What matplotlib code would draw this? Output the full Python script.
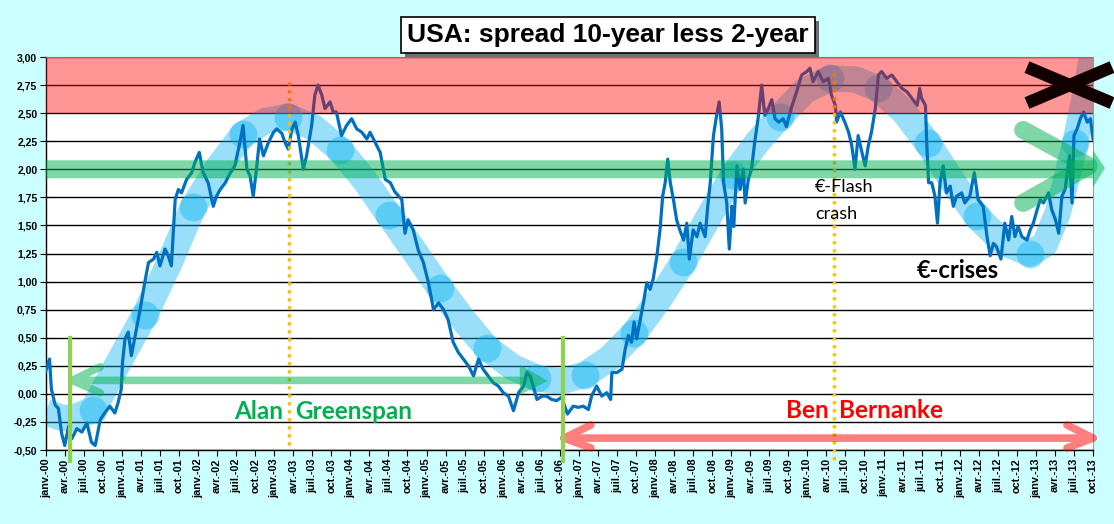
import matplotlib
matplotlib.use('Agg')
import matplotlib.pyplot as plt
from matplotlib.patches import Polygon, Rectangle
import numpy as np

# ---------------- data (months since Jan-2000, spread in %) ----------------
months = [0, 0.6, 0.9, 1.5, 2, 2.5, 3, 3.6, 4.1, 4.9, 5.7, 6.5, 7.2, 7.8, 8.6, 9.3,
          10.1, 10.9, 11.4, 11.9, 12.1, 12.5, 13, 13.5, 14.3, 14.9, 15.6, 16.2, 17,
          17.5, 18, 18.8, 19.3, 19.8, 20.4, 20.9, 21.4, 22.2, 23, 23.5, 24.2, 24.8,
          25.6, 26.4, 26.9, 27.5, 28.3, 29, 29.8, 30.6, 31.1, 31.7, 32.2, 32.7, 33.2,
          33.7, 34.3, 35.1, 35.9, 36.4, 37.2, 37.7, 38.2, 38.8, 39.3, 39.8, 40.6,
          41.1, 41.9, 42.4, 42.9, 43.5, 44, 44.8, 45.3, 45.8, 46.6, 47.4, 48.2, 49,
          49.8, 50.6, 51.1, 51.9, 52.7, 53.5, 54.3, 55, 56.1, 56.6, 57.1, 57.9, 58.7,
          59.5, 60.3, 61.1, 61.9, 62.7, 63.4, 64.2, 65, 65.8, 66.6, 67.4, 68.2, 68.9,
          69.7, 70.5, 71.3, 72.1, 72.9, 73.7, 74.5, 75.3, 75.8, 76.3, 76.8, 77.4,
          78.2, 78.9, 79.7, 80.5, 81.3, 82.2, 83.1, 83.9, 84.7, 85.5, 86, 86.8, 87.6,
          88.4, 89, 89.2, 90, 90.8, 91.3, 91.8, 92.3, 92.7, 93.1, 93.6, 94.2, 94.7,
          95.2, 95.7, 96.3, 96.8, 97.2, 97.6, 98, 98.4, 98.9, 99.4, 99.9, 100.5, 101,
          101.4, 102, 102.6, 103.1, 103.9, 104.3, 104.7, 105.2, 105.7, 106.1, 106.5,
          106.8, 107.3, 107.7, 108.1, 108.4, 108.9, 109.4, 109.9, 110.2, 110.7, 111.2,
          111.7, 112.3, 112.8, 113.3, 113.9, 114.4, 114.9, 115.5, 116.2, 116.7, 117.5,
          118.3, 119.1, 119.9, 120.4, 120.9, 121.7, 122.5, 123.3, 123.8, 124.4, 124.6,
          125.2, 125.9, 126.5, 127, 127.5, 128, 128.6, 129.1, 129.6, 130.1, 130.7,
          131.2, 131.7, 132.5, 133.3, 134.1, 134.9, 135.7, 136.5, 137.3, 137.7, 138,
          138.6, 138.8, 139.1, 139.6, 140.1, 140.5, 140.9, 141.4, 141.9, 142.5, 143,
          143.5, 144.3, 144.8, 145.6, 146.3, 146.9, 147.7, 148.3, 148.8, 149.3, 149.8,
          150.5, 151.1, 151.7, 152.2, 152.7, 153.2, 153.8, 154.6, 155.1, 155.6, 156.2,
          156.7, 157.2, 158, 158.5, 159.1, 159.6, 160.1, 160.6, 161.3, 161.7, 162,
          162.5, 163, 163.5, 164.1, 164.6, 165]
spread = [0.20, 0.31, 0.04, -0.10, -0.13, -0.35, -0.46, -0.29, -0.40, -0.31, -0.34,
          -0.26, -0.43, -0.46, -0.23, -0.17, -0.11, -0.17, -0.08, 0.04, 0.28, 0.49,
          0.55, 0.34, 0.58, 0.76, 0.99, 1.17, 1.20, 1.26, 1.14, 1.29, 1.23, 1.14, 1.73,
          1.82, 1.79, 1.91, 1.97, 2.06, 2.15, 1.97, 1.88, 1.67, 1.76, 1.82, 1.88, 1.96,
          2.03, 2.24, 2.39, 2.00, 1.94, 1.76, 2.00, 2.27, 2.12, 2.24, 2.33, 2.36, 2.32,
          2.24, 2.18, 2.36, 2.42, 2.30, 2.00, 2.12, 2.39, 2.66, 2.75, 2.66, 2.54, 2.60,
          2.51, 2.51, 2.30, 2.39, 2.45, 2.36, 2.33, 2.27, 2.33, 2.24, 2.15, 1.91, 1.88,
          1.80, 1.73, 1.43, 1.55, 1.46, 1.28, 1.17, 0.99, 0.75, 0.81, 0.75, 0.66, 0.46,
          0.37, 0.31, 0.25, 0.16, 0.31, 0.22, 0.16, 0.10, 0.07, 0.01, -0.02, -0.15,
          0.01, 0.07, 0.19, 0.16, 0.07, -0.05, -0.02, -0.02, -0.05, -0.06, -0.03, -0.18,
          -0.11, -0.12, -0.11, -0.14, -0.02, 0.07, -0.02, 0.01, -0.05, 0.19, 0.19, 0.22,
          0.40, 0.52, 0.46, 0.64, 0.49, 0.64, 0.82, 0.99, 0.93, 1.02, 1.23, 1.47, 1.76,
          1.88, 2.09, 1.88, 1.73, 1.55, 1.46, 1.37, 1.52, 1.20, 1.46, 1.40, 1.52, 1.40,
          1.67, 1.88, 2.30, 2.48, 2.60, 2.36, 1.88, 1.70, 1.29, 1.67, 1.49, 2.03, 1.82,
          2.00, 1.70, 1.91, 2.00, 2.24, 2.48, 2.75, 2.48, 2.55, 2.62, 2.45, 2.42, 2.45,
          2.38, 2.55, 2.69, 2.84, 2.87, 2.90, 2.78, 2.87, 2.78, 2.81, 2.66, 2.57, 2.42,
          2.51, 2.42, 2.33, 2.21, 2.00, 2.30, 2.15, 2.03, 2.21, 2.33, 2.54, 2.84, 2.87,
          2.81, 2.84, 2.78, 2.72, 2.69, 2.63, 2.57, 2.72, 2.63, 2.57, 2.24, 1.88, 1.88,
          1.76, 1.52, 1.88, 2.03, 1.79, 1.85, 1.67, 1.76, 1.79, 1.70, 1.76, 1.97, 1.73,
          1.67, 1.40, 1.23, 1.34, 1.31, 1.20, 1.52, 1.37, 1.58, 1.40, 1.49, 1.40, 1.37,
          1.46, 1.52, 1.64, 1.73, 1.70, 1.79, 1.64, 1.55, 1.43, 1.76, 1.82, 2.12, 1.70,
          2.30, 2.36, 2.45, 2.51, 2.42, 2.45, 2.27]

# hand-drawn trend wave
wave_m = [0, 2.3, 4.1, 7.45, 11.4, 15.6, 19.6, 23.2, 27.2, 31.1, 34.6, 38.2, 42.3,
          46.4, 50.3, 54.1, 58.2, 62.1, 65.8, 69.5, 73.5, 77.4, 81.0, 85.0, 88.9,
          92.7, 96.5, 100.4, 104.3, 108.3, 112.1, 115.7, 119.6, 123.6, 127.5, 131.1,
          135.1, 139.0, 142.8, 146.7, 150.8, 155.1, 157.4, 159.5, 162.2, 164.0, 165.0]
wave_v = [-0.16, -0.21, -0.22, -0.14, 0.27, 0.70, 1.18, 1.66, 2.02, 2.31, 2.43, 2.47,
          2.37, 2.17, 1.90, 1.59, 1.26, 0.94, 0.66, 0.41, 0.24, 0.14, 0.11, 0.17, 0.32,
          0.54, 0.83, 1.17, 1.56, 1.95, 2.24, 2.47, 2.70, 2.81, 2.80, 2.72, 2.52, 2.23,
          1.90, 1.58, 1.35, 1.25, 1.33, 1.62, 2.23, 2.72, 3.05]
circle_m = [7.45, 15.6, 23.2, 31.1, 38.2, 46.4, 54.1, 62.1, 69.5, 77.4, 85.0, 92.7,
            100.4, 108.3, 115.7, 123.6, 131.1, 139.0, 146.7, 155.1, 162.2]
circle_v = [-0.14, 0.70, 1.66, 2.31, 2.47, 2.17, 1.59, 0.94, 0.41, 0.14, 0.17, 0.54,
            1.17, 1.95, 2.47, 2.81, 2.72, 2.23, 1.58, 1.25, 2.23]

month_names = ['janv.', 'avr.', 'juil.', 'oct.']
tick_months = list(range(0, 166, 3))
tick_labels = [f"{month_names[(t // 3) % 4]}-{t // 12:02d}" for t in tick_months]
y_ticks = [-0.5, -0.25, 0, 0.25, 0.5, 0.75, 1.0, 1.25, 1.5, 1.75, 2.0, 2.25, 2.5, 2.75, 3.0]

title = "USA: spread 10-year less 2-year"

# ---------------- figure ----------------
W, H = 1114, 524
fig = plt.figure(figsize=(W / 100, H / 100), dpi=100, facecolor='#CCFFFF')
L, R, T, B = 45.7, 1093, 57, 450
ax = fig.add_axes([L / W, 1 - B / H, (R - L) / W, (B - T) / H])
ax.set_facecolor('white')
ax.set_xlim(0, 165)
ax.set_ylim(-0.5, 3.0)

ann_font = ['Lato', 'DejaVu Sans']
axis_font = ['Liberation Sans', 'DejaVu Sans']

# grid
ax.set_yticks(y_ticks)
ax.set_yticklabels([f"{v:.2f}".replace('.', ',') for v in y_ticks],
                   fontsize=7.5, fontweight='bold', family=axis_font)
ax.set_xticks(tick_months)
ax.set_xticklabels(tick_labels, rotation=90, fontsize=7.8, fontweight='bold',
                   family=axis_font)
ax.tick_params(axis='both', length=4, width=0.8, pad=2, colors='black')
ax.grid(axis='y', color='black', lw=1.0, zorder=0)
ax.set_axisbelow(True)
for s in ['top', 'right']:
    ax.spines[s].set_color('#8FA0A8')
    ax.spines[s].set_linewidth(0.8)
for s in ['left', 'bottom']:
    ax.spines[s].set_color('black')
    ax.spines[s].set_linewidth(1.0)

# wave with circles
ax.plot(wave_m, wave_v, color='#00B0F0', alpha=0.4, lw=19, solid_capstyle='butt',
        solid_joinstyle='round', zorder=2)
ax.plot(circle_m, circle_v, 'o', color='#00B0F0', alpha=0.4, ms=20, mew=0, zorder=2.1)

# data line
ax.plot(months, spread, color='#0070C0', lw=2.3, zorder=3, solid_joinstyle='round')

# dotted vertical lines
ax.plot([38.33, 38.33], [-0.455, 2.78], color='#FFC000', lw=2.4,
        linestyle=(0, (1, 1.4)), dash_capstyle='butt', zorder=4, clip_on=False)
ax.plot([124.2, 124.2], [-0.59, 2.86], color='#FFC000', lw=2.4,
        linestyle=(0, (1, 1.4)), dash_capstyle='butt', zorder=4, clip_on=False)

# red zone
ax.axhspan(2.5, 3.0, color='red', alpha=0.41, lw=0, zorder=5)

# green band arrow at 2.0
green_band = Polygon([(0, 1.92), (165, 1.92), (165, 1.84), (166.9, 2.01), (165, 2.17),
                      (165, 2.08), (0, 2.08)], closed=True, facecolor='#00B050',
                     edgecolor='none', alpha=0.5, zorder=5, clip_on=False)
ax.add_patch(green_band)

# big green chevron on the right
ax.plot([154.0, 164.3, 154.0], [2.35, 2.03, 1.70], color='#00B050', alpha=0.5, lw=13,
        solid_capstyle='round', solid_joinstyle='round', zorder=6, clip_on=False)

# black cross
ax.plot([154.6, 168.0], [2.91, 2.59], color='#120000', lw=9, solid_capstyle='butt',
        zorder=8, clip_on=False)
ax.plot([154.6, 168.0], [2.59, 2.91], color='#120000', lw=9, solid_capstyle='butt',
        zorder=8, clip_on=False)

# Greenspan arrow
ax.plot([74.7, 4.15, np.nan, 8.6, 4.15, 8.6], [0.12, 0.12, np.nan, 0.24, 0.12, 0.01],
        color='#00B050', alpha=0.5, lw=5.5, solid_capstyle='round',
        solid_joinstyle='round', zorder=6)
ax.add_patch(Polygon([(74.7, 0.26), (79.1, 0.115), (74.7, -0.01)], closed=True,
                     facecolor='#00B050', edgecolor='none', alpha=0.5, zorder=6))

# Bernanke double arrow
ax.plot([81.66, 165.0, np.nan, 85.9, 81.66, 85.9, np.nan, 160.9, 165.0, 160.9],
        [-0.394, -0.394, np.nan, -0.277, -0.394, -0.482, np.nan, -0.277, -0.394, -0.482],
        color='red', alpha=0.5, lw=5.5, solid_capstyle='round', solid_joinstyle='round',
        zorder=6, clip_on=False)

# light-green vertical markers
for xm in [3.83, 81.45]:
    ax.plot([xm, xm], [-0.60, 0.50], color='#92D050', lw=3, zorder=7, clip_on=False)

# texts
ax.text(37.4, -0.155, 'Alan', color='#00B050', fontsize=17.5, fontweight='bold',
        family=ann_font, ha='right', va='center', zorder=9)
ax.text(39.3, -0.155, 'Greenspan', color='#00B050', fontsize=17.5, fontweight='bold',
        family=ann_font, ha='left', va='center', zorder=9)
ax.text(123.3, -0.145, 'Ben', color='red', fontsize=17.5, fontweight='bold',
        family=ann_font, ha='right', va='center', zorder=9)
ax.text(125.0, -0.145, 'Bernanke', color='red', fontsize=17.5, fontweight='bold',
        family=ann_font, ha='left', va='center', zorder=9)
ax.text(121.2, 1.84, '€-Flash', color='black', fontsize=13, family=ann_font,
        ha='left', va='center', zorder=9)
ax.text(121.2, 1.60, 'crash', color='black', fontsize=13, family=ann_font,
        ha='left', va='center', zorder=9)
ax.text(143.7, 1.10, '€-crises', color='black', fontsize=17, fontweight='bold',
        family=ann_font, ha='center', va='center', zorder=9)

# title with shadow box
tx, ty = 608 / W, 1 - 35 / H
ttl = fig.text(tx, ty, title, fontsize=19, fontweight='bold', family=axis_font,
               ha='center', va='center', color='black', zorder=10,
               bbox=dict(boxstyle='square,pad=0.22', facecolor='white',
                         edgecolor='black', lw=1.2))
fig.canvas.draw()
bb = ttl.get_bbox_patch().get_window_extent()
fig.patches.append(Rectangle(((bb.x0 + 4) / W, (bb.y0 - 4) / H), bb.width / W,
                             bb.height / H, transform=fig.transFigure,
                             facecolor='#6F6F6F', edgecolor='none', zorder=1))

fig.savefig('out.png', dpi=100, facecolor=fig.get_facecolor())
